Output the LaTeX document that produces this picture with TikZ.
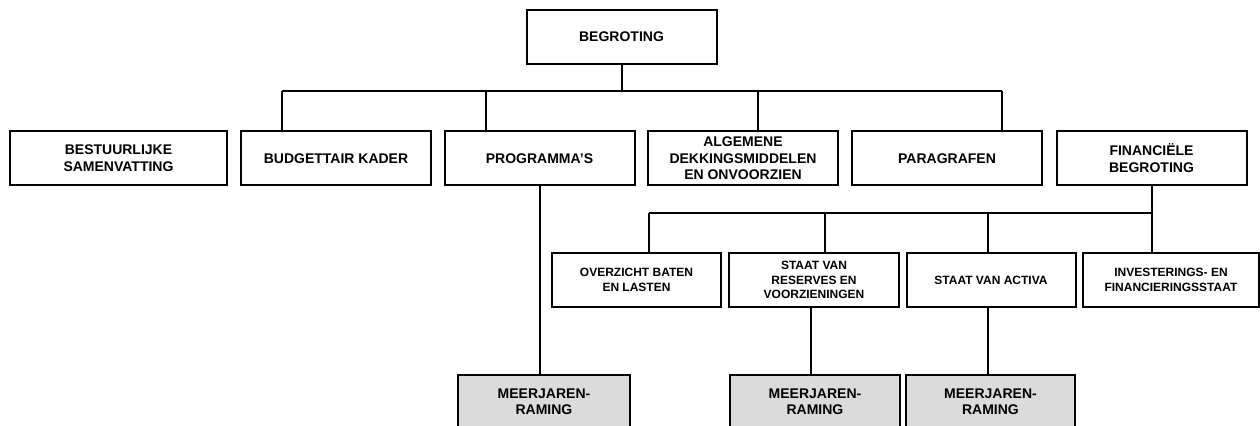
\documentclass[tikz,border=0pt]{standalone}
\usepackage{fontspec}
\setmainfont{Liberation Sans}
\usetikzlibrary{positioning,calc}

\begin{document}
\begin{tikzpicture}[
    x=0.5pt, y=-0.5pt,
    box/.style={draw, line width=1pt, minimum width=95pt, minimum height=27pt, inner sep=1pt, font=\fontsize{7}{8.2}\selectfont\bfseries, align=center, fill=white},
    sub/.style={box, minimum width=84.5pt, font=\fontsize{6}{7.3}\selectfont\bfseries},
    raming/.style={box, minimum width=85pt, fill=black!14},
    link/.style={line width=1pt}
]
\useasboundingbox (0,0) rectangle (1260,425);
\clip (0,0) rectangle (1260,425);

% ===== TOP =====
\node[box] (begr) at (621.5, 36.75) {BEGROTING};

% ===== ROW 1 =====
\node[box, minimum width=108.5pt] (bestuur) at (118.5, 158.25) {BESTUURLIJKE\\SAMENVATTING};
\node[box] (kader) at (336, 158.25) {BUDGETTAIR KADER};
\node[box] (progr) at (539.5, 158.25) {PROGRAMMA'S};
\node[box] (dekking) at (743, 158.25) {ALGEMENE\\DEKKINGSMIDDELEN\\EN ONVOORZIEN};
\node[box] (parag) at (947, 158.25) {PARAGRAFEN};
\node[box] (finbegr) at (1151.5, 158.25) {FINANCIËLE\\BEGROTING};

% ===== ROW 2 =====
\node[sub] (baten) at (636.5, 280) {OVERZICHT BATEN\\EN LASTEN};
\node[sub, minimum width=85pt] (reserves) at (814, 280) {STAAT VAN\\RESERVES EN\\VOORZIENINGEN};
\node[sub] (activa) at (991, 280) {STAAT VAN ACTIVA};
\node[sub, minimum width=88pt] (invest) at (1171, 280) {INVESTERINGS- EN\\FINANCIERINGSSTAAT};

% ===== MEERJARENRAMING =====
\node[raming, minimum width=86pt] (mjr1) at (544, 402) {MEERJAREN-\\RAMING};
\node[raming] (mjr2) at (815, 402) {MEERJAREN-\\RAMING};
\node[raming, minimum width=84.5pt] (mjr3) at (990.5, 402) {MEERJAREN-\\RAMING};

% ===== CONNECTORS =====
\coordinate (barL) at (282, 90.5);
\coordinate (barR) at (1002, 90.5);
\draw[link] (barL) -- (barR);
\draw[link] (begr.south) -- (begr.south |- barL);
\draw[link] (barL) -- (barL |- kader.north);
\draw[link] (486, 90.5) coordinate (barP) -- (barP |- progr.north);
\draw[link] (758, 90.5) coordinate (barD) -- (barD |- dekking.north);
\draw[link] (barR) -- (barR |- parag.north);

\coordinate (fbarL) at (649, 212.5);
\coordinate (fbarR) at (finbegr.south |- fbarL);
\draw[link] (fbarL) -- (fbarR);
\draw[link] (finbegr.south) -- (finbegr.south |- invest.north);
\draw[link] (fbarL) -- (fbarL |- baten.north);
\draw[link] (825, 212.5) coordinate (fbarS) -- (fbarS |- reserves.north);
\draw[link] (988, 212.5) coordinate (fbarA) -- (fbarA |- activa.north);

\draw[link] (progr.south) -- (progr.south |- mjr1.north);
\draw[link] (811, 307) coordinate (resB) -- (resB |- mjr2.north);
\draw[link] (988, 307) coordinate (actB) -- (actB |- mjr3.north);

\end{tikzpicture}
\end{document}
